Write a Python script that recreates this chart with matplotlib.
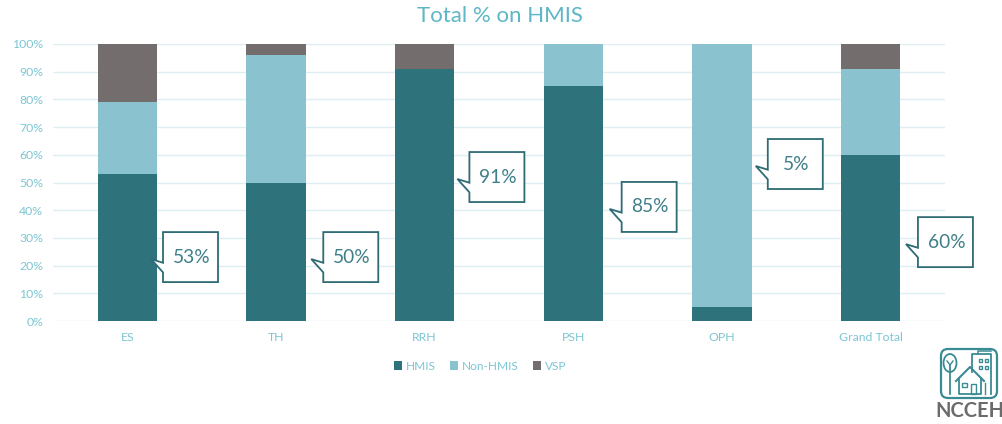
import matplotlib
matplotlib.use("Agg")
import matplotlib.pyplot as plt
from matplotlib.patches import Polygon, FancyBboxPatch, Rectangle, Ellipse
from matplotlib.transforms import IdentityTransform
import numpy as np

categories = ["ES", "TH", "RRH", "PSH", "OPH", "Grand Total"]
hmis = [53, 50, 91, 85, 5, 60]
non_hmis = [26, 46, 0, 15, 95, 31]
vsp = [21, 4, 9, 0, 0, 9]
callout_labels = ["53%", "50%", "91%", "85%", "5%", "60%"]
yticks = [0, 10, 20, 30, 40, 50, 60, 70, 80, 90, 100]
ytick_labels = [f"{v}%" for v in yticks]

# layout: callout box left (offset from bar centre, x units) and top (y %)
callout_pos = [(0.24, 32.1), (0.318, 32.1), (0.301, 61.0), (0.325, 50.2), (0.308, 65.7), (0.318, 37.5)]

C_HMIS = "#2E727B"
C_NON = "#8AC2D0"
C_VSP = "#736E6D"
C_TXT = "#7CC6D3"
C_GRID = "#DDEFF3"

plt.rcParams['font.family'] = ['Lato', 'DejaVu Sans']

W, H = 1003, 424
fig = plt.figure(figsize=(W / 100, H / 100), dpi=100)
ax = fig.add_axes([53 / W, 1 - 321 / H, (945 - 53) / W, (321 - 44) / H])

x = np.arange(len(categories))
wd = 0.4
b1 = ax.bar(x, hmis, wd, color=C_HMIS, label="HMIS", zorder=3)
b2 = ax.bar(x, non_hmis, wd, bottom=hmis, color=C_NON, label="Non-HMIS", zorder=3)
bot3 = [a + b for a, b in zip(hmis, non_hmis)]
b3 = ax.bar(x, vsp, wd, bottom=bot3, color=C_VSP, label="VSP", zorder=3)

ax.set_xlim(-0.5, len(categories) - 0.5)
ax.set_ylim(0, 100)
ax.set_yticks(yticks)
ax.set_yticklabels(ytick_labels)
ax.set_xticks(x)
ax.set_xticklabels(categories)
ax.tick_params(axis='both', length=0, colors=C_TXT, labelsize=8.8)
ax.tick_params(axis='x', pad=8)
ax.tick_params(axis='y', pad=7)
for s in ax.spines.values():
    s.set_visible(False)
ax.grid(axis='y', color=C_GRID, lw=1, zorder=0)
ax.set_axisbelow(True)

fig.text(500 / W, 1 - 16 / H, "Total % on HMIS", ha='center', va='center',
         fontsize=16, color="#5DB7C6")

fig.legend(handles=[b1, b2, b3], labels=["HMIS", "Non-HMIS", "VSP"], loc='center',
           bbox_to_anchor=(480 / W, 1 - 366 / H), ncol=3, frameon=False,
           handlelength=0.7, handleheight=0.7, handletextpad=0.3, columnspacing=1.2,
           fontsize=8.6, labelcolor=C_TXT)

# callouts drawn in pixel space
fig.canvas.draw()
bw, bh = 55, 50
for i, (lab, (dx, top)) in enumerate(zip(callout_labels, callout_pos)):
    px, py = ax.transData.transform((x[i] + dx, top))
    verts = [
        (px, py), (px + bw, py), (px + bw, py - bh), (px, py - bh),
        (px, py - 40.3), (px - 12, py - 27), (px, py - 30.7),
    ]
    poly = Polygon(verts, closed=True, facecolor='white', edgecolor="#2E6B74", lw=1.3,
                   transform=IdentityTransform(), zorder=5)
    fig.add_artist(poly)
    fig.text((px + bw / 2 + 1) / W, (py - bh / 2) / H, lab, ha='center', va='center',
             fontsize=13.8, color="#3E7F88", zorder=6)

# logo
LC = "#3A8B94"
lax = fig.add_axes([938 / W, 0, 65 / W, 80 / H])
lax.set_xlim(938, 1003)
lax.set_ylim(424, 344)
lax.axis('off')
lax.add_patch(FancyBboxPatch((941, 349), 56, 49, boxstyle="round,pad=0,rounding_size=7",
                             fill=False, ec=LC, lw=1.6))
# tree
lax.add_patch(Ellipse((950, 363), 13, 18, fill=False, ec=LC, lw=1.3))
lax.plot([950, 950], [366, 394], color=LC, lw=1.3)
lax.plot([947, 950, 953], [361, 365, 361], color=LC, lw=1.0)
# building
lax.plot([972, 972, 991, 991], [372, 354, 354, 394], color=LC, lw=1.3)
lax.plot([978, 978, 991], [354, 351, 351], color=LC, lw=1.1)
for wx in (979, 985):
    for wy in (359, 366):
        lax.add_patch(Rectangle((wx, wy), 3.5, 3, fill=False, ec=LC, lw=1.0))
# house
lax.plot([956, 970, 984], [381, 367, 381], color=LC, lw=1.5)
lax.plot([959, 959, 981, 981], [378, 394, 394, 378], color=LC, lw=1.3)
lax.add_patch(Rectangle((962, 383), 5, 4, fill=False, ec=LC, lw=1.0))
lax.add_patch(Rectangle((971, 384), 5, 10, fill=False, ec=LC, lw=1.0))
lax.plot([985, 985], [383, 394], color=LC, lw=1.0)
fig.text(970 / W, 1 - 411 / H, "NCCEH", ha='center', va='center', fontsize=14.5,
         fontweight='bold', color="#6B6B6B")

fig.savefig("out.png", dpi=100)
